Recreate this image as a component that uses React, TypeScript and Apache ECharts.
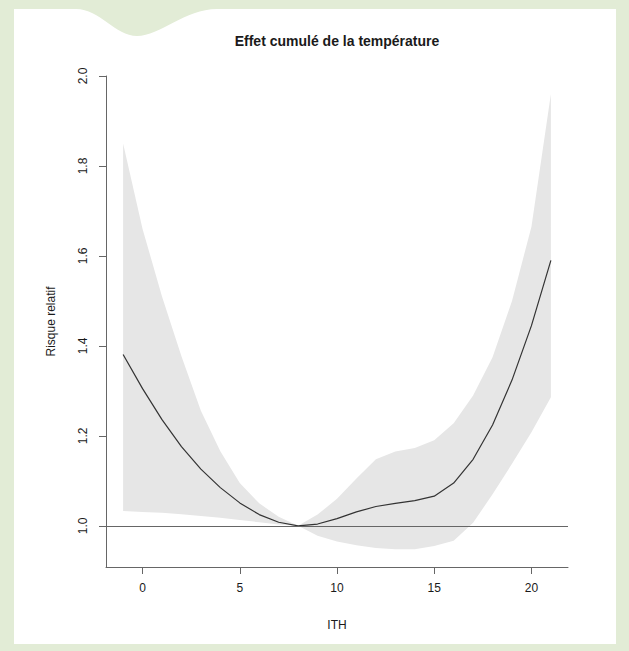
import React, { useEffect, useRef } from "react";
import * as echarts from "echarts";

const ith = [-1, 0, 1, 2, 3, 4, 5, 6, 7, 8, 9, 10, 11, 12, 13, 14, 15, 16, 17, 18, 19, 20, 21];
const rr = [1.381, 1.305, 1.236, 1.176, 1.126, 1.085, 1.051, 1.025, 1.008, 1.0, 1.004, 1.016, 1.031, 1.043, 1.05, 1.056, 1.066, 1.095, 1.148, 1.224, 1.324, 1.445, 1.59];
const upper = [1.85, 1.66, 1.51, 1.377, 1.256, 1.166, 1.095, 1.05, 1.02, 1.0, 1.025, 1.06, 1.105, 1.148, 1.165, 1.173, 1.19, 1.228, 1.29, 1.375, 1.5, 1.665, 1.96];
const lower = [1.033, 1.031, 1.029, 1.026, 1.022, 1.018, 1.013, 1.008, 1.003, 1.0, 0.978, 0.965, 0.957, 0.951, 0.948, 0.948, 0.955, 0.967, 1.007, 1.07, 1.138, 1.208, 1.286];
const xTicks = [0, 5, 10, 15, 20];
const yTicks = [1.0, 1.2, 1.4, 1.6, 1.8, 2.0];

const TITLE = "Effet cumulé de la température";
const FONT = "'Liberation Sans', Arial, sans-serif";

let registered = false;
function registerShapes() {
  if (registered) return;
  registered = true;
  const d =
    "M14,9 L76,9 C100,9 115,36 137,36 C160,36 185,9 217,9 L616,9 L616,644 L14,644 Z";
  echarts.graphic.registerShape("panelShape", echarts.graphic.extendPath(d, {}) as any);
}

export default function App() {
  const ref = useRef<HTMLDivElement>(null);
  useEffect(() => {
    if (!ref.current) return;
    registerShapes();
    const chart = echarts.init(ref.current, undefined, { renderer: "svg" });
    const option: any = {
      animation: false,
      backgroundColor: "#e2ecd6",
      textStyle: { fontFamily: FONT },
      graphic: [
        {
          type: "panelShape",
          x: 0,
          y: 0,
          z: -100,
          silent: true,
          style: { fill: "#ffffff" },
        },
        {
          type: "text",
          x: 337,
          y: 41,
          style: {
            text: TITLE,
            fill: "#1a1a1a",
            font: `bold 14px ${FONT}`,
            textAlign: "center",
            textVerticalAlign: "middle",
          },
        },
      ],
      grid: { left: 106, right: 61, top: 76, bottom: 84, containLabel: false },
      xAxis: {
        type: "value",
        min: -1.88,
        max: 21.88,
        name: "ITH",
        nameLocation: "middle",
        nameGap: 52,
        nameTextStyle: { color: "#1a1a1a", fontSize: 12, fontFamily: FONT },
        axisLine: { show: true, onZero: false, lineStyle: { color: "#666", width: 1 } },
        axisTick: { show: true, length: 7, customValues: xTicks, lineStyle: { color: "#666" } },
        axisLabel: {
          customValues: xTicks,
          margin: 15,
          color: "#1a1a1a",
          fontSize: 12,
          fontFamily: FONT,
        },
        splitLine: { show: false },
      },
      yAxis: {
        type: "value",
        min: 0.9085,
        max: 2.0,
        name: "Risque relatif",
        nameLocation: "middle",
        nameGap: 49,
        nameTextStyle: { color: "#1a1a1a", fontSize: 12, fontFamily: FONT },
        axisLine: { show: true, onZero: false, lineStyle: { color: "#666", width: 1 } },
        axisTick: { show: true, length: 7, customValues: yTicks, lineStyle: { color: "#666" } },
        axisLabel: {
          customValues: yTicks,
          rotate: 90,
          margin: 17,
          color: "#1a1a1a",
          fontSize: 12,
          fontFamily: FONT,
          formatter: (v: number) => v.toFixed(1),
        },
        splitLine: { show: false },
      },
      series: [
        {
          type: "custom",
          z: 1,
          silent: true,
          clip: true,
          data: ith.map((x, i) => [x, lower[i], upper[i]]),
          renderItem: (params: any, api: any) => {
            if (params.dataIndex !== 0) return null;
            const pts: number[][] = [];
            for (let i = 0; i < ith.length; i++) pts.push(api.coord([ith[i], upper[i]]));
            for (let i = ith.length - 1; i >= 0; i--) pts.push(api.coord([ith[i], lower[i]]));
            return {
              type: "polygon",
              shape: { points: pts },
              style: { fill: "#e6e6e6", stroke: "none" },
            };
          },
        },
        {
          type: "line",
          z: 3,
          silent: true,
          showSymbol: false,
          symbol: "none",
          data: ith.map((x, i) => [x, rr[i]]),
          lineStyle: { color: "#333", width: 1.2 },
          markLine: {
            silent: true,
            symbol: "none",
            label: { show: false },
            lineStyle: { color: "#666", width: 1, type: "solid" },
            data: [{ yAxis: 1 }],
          },
        },
      ],
    };
    chart.setOption(option);
    return () => chart.dispose();
  }, []);
  return (
    <div
      ref={ref}
      style={{ position: "fixed", left: 0, top: 0, width: 629, height: 651 }}
    />
  );
}
